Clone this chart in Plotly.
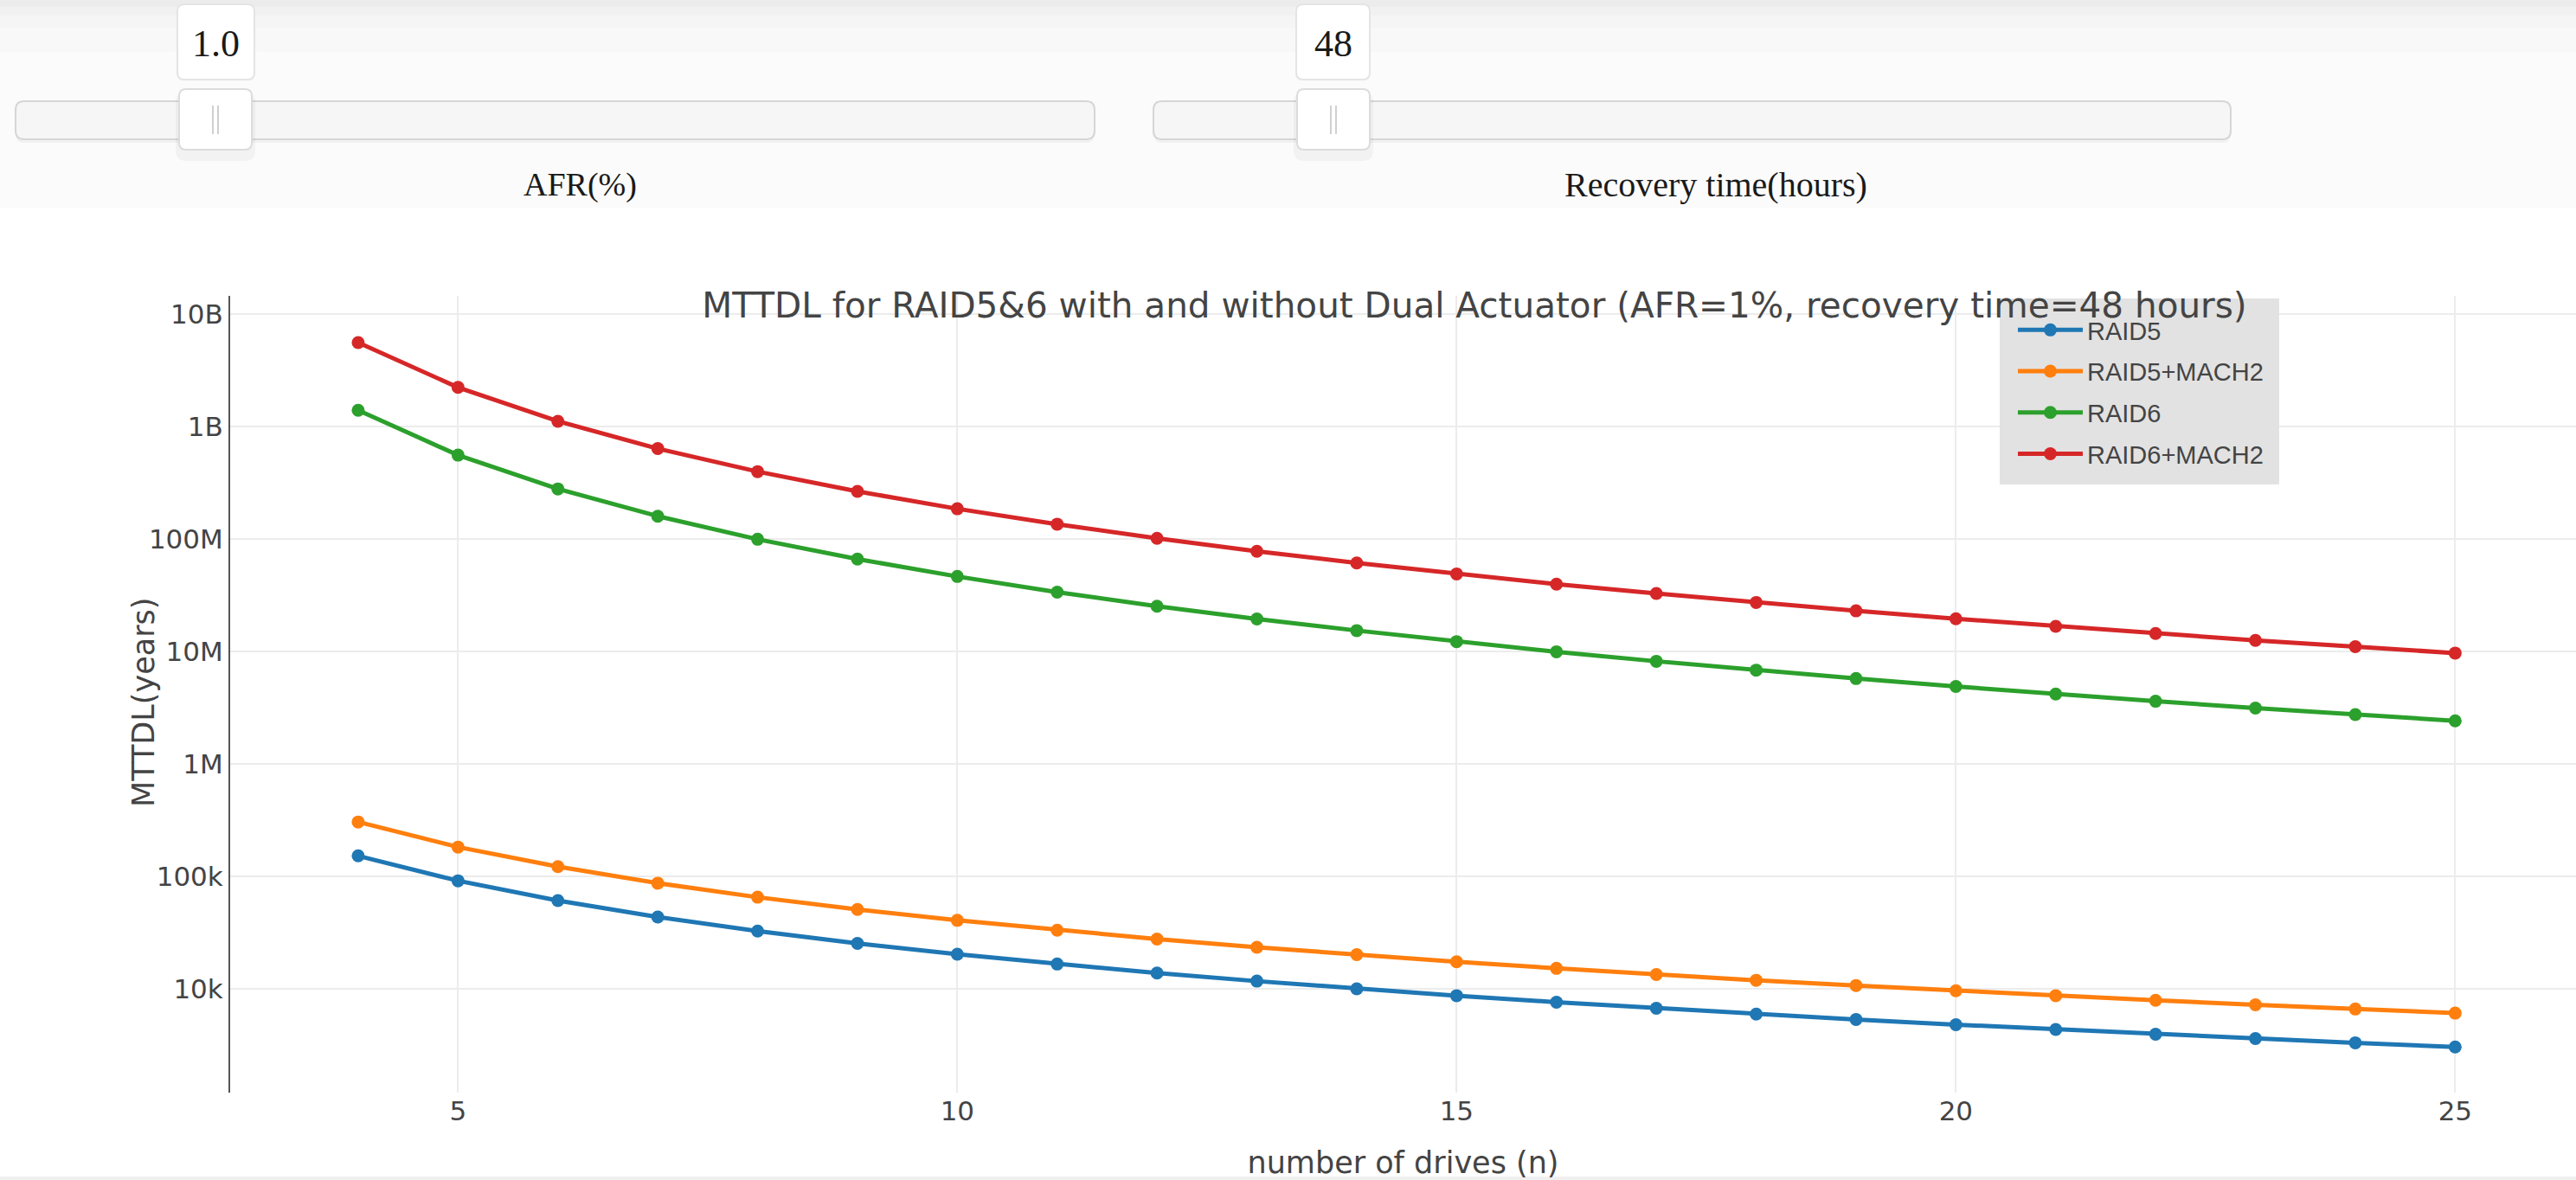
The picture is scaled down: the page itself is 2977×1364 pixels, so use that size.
import plotly.graph_objects as go

# number of drives in the array
drives = [4, 5, 6, 7, 8, 9, 10, 11, 12, 13, 14, 15, 16, 17, 18, 19, 20, 21, 22, 23, 24, 25]

# MTTDL in years (AFR = 1 %, recovery time = 48 h)
raid5 = [152000, 91200, 60800, 43500, 32600, 25300, 20300, 16600, 13800, 11700, 10000,
         8690, 7600, 6710, 5960, 5340, 4800, 4350, 3950, 3610, 3310, 3040]
raid5_mach2 = [304000, 182000, 122000, 86900, 65200, 50700, 40600, 33200, 27700, 23400, 20100,
               17400, 15200, 13400, 11900, 10700, 9610, 8690, 7900, 7210, 6610, 6080]
raid6 = [1.39e9, 5.55e8, 2.78e8, 1.59e8, 9.91e7, 6.61e7, 4.63e7, 3.36e7, 2.52e7, 1.94e7, 1.53e7,
         1.22e7, 9.91e6, 8.16e6, 6.80e6, 5.73e6, 4.87e6, 4.17e6, 3.60e6, 3.13e6, 2.74e6, 2.41e6]
raid6_mach2 = [5.55e9, 2.22e9, 1.11e9, 6.34e8, 3.96e8, 2.64e8, 1.85e8, 1.35e8, 1.01e8, 7.76e7, 6.10e7,
               4.88e7, 3.96e7, 3.27e7, 2.72e7, 2.29e7, 1.95e7, 1.67e7, 1.44e7, 1.25e7, 1.10e7, 9.65e6]

series_names = ["RAID5", "RAID5+MACH2", "RAID6", "RAID6+MACH2"]
series_values = [raid5, raid5_mach2, raid6, raid6_mach2]
series_colors = ["#1f77b4", "#ff7f0e", "#2ca02c", "#d62728"]

# control values shown above the chart
afr_value = "1.0"
recovery_value = "48"
afr_label = "AFR(%)"
recovery_label = "Recovery time(hours)"

W, H = 2977, 1364
ML, MR, MT, MB = 266, 0, 342, 101
PW, PH = W - ML - MR, H - MT - MB


def px(x):
    return (x - ML) / PW


def py(y):
    return (H - MB - y) / PH


def rounded(x0, y0, x1, y1, r):
    """SVG path for a rounded rectangle given in page pixels (paper units)."""
    pts = [
        f"M{px(x0 + r)},{py(y0)}",
        f"L{px(x1 - r)},{py(y0)}",
        f"Q{px(x1)},{py(y0)} {px(x1)},{py(y0 + r)}",
        f"L{px(x1)},{py(y1 - r)}",
        f"Q{px(x1)},{py(y1)} {px(x1 - r)},{py(y1)}",
        f"L{px(x0 + r)},{py(y1)}",
        f"Q{px(x0)},{py(y1)} {px(x0)},{py(y1 - r)}",
        f"L{px(x0)},{py(y0 + r)}",
        f"Q{px(x0)},{py(y0)} {px(x0 + r)},{py(y0)}",
        "Z",
    ]
    return " ".join(pts)


fig = go.Figure()
for name, vals, col in zip(series_names, series_values, series_colors):
    fig.add_trace(go.Scatter(
        x=drives, y=vals, name=name, legendgroup=name, mode="lines+markers",
        line=dict(color=col, width=5),
        marker=dict(color=col, size=15),
    ))

shapes = []
# header band behind the controls
shapes.append(dict(type="rect", xref="paper", yref="paper", x0=px(0), x1=px(W), y0=py(0), y1=py(240),
                   fillcolor="#fbfbfb", line=dict(width=0), layer="below"))
for y0, y1, c in [(0, 8, "#ececec"), (8, 18, "#f1f1f1"), (18, 32, "#f5f5f5"), (32, 60, "#f8f8f8")]:
    shapes.append(dict(type="rect", xref="paper", yref="paper", x0=px(0), x1=px(W), y0=py(y0), y1=py(y1),
                       fillcolor=c, line=dict(width=0), layer="below"))
# thin strip at the page bottom
shapes.append(dict(type="rect", xref="paper", yref="paper", x0=px(0), x1=px(W), y0=py(1360), y1=py(H),
                   fillcolor="#f0f0f0", line=dict(width=0), layer="below"))

# slider rails
for x0, x1 in [(18, 1265), (1333, 2578)]:
    shapes.append(dict(type="path", xref="paper", yref="paper", path=rounded(x0, 119, x1, 165, 10),
                       fillcolor="rgba(0,0,0,0.04)", line=dict(width=0), layer="below"))
    shapes.append(dict(type="path", xref="paper", yref="paper", path=rounded(x0, 117, x1, 161, 10),
                       fillcolor="#f6f6f6", line=dict(color="#d6d6d6", width=2), layer="below"))

# slider grips and value boxes
for cx, bx0, bx1 in [(249, 205, 294), (1541, 1498, 1583)]:
    shapes.append(dict(type="path", xref="paper", yref="paper", path=rounded(cx - 46, 106, cx + 46, 186, 12),
                       fillcolor="rgba(0,0,0,0.035)", line=dict(width=0), layer="below"))
    shapes.append(dict(type="path", xref="paper", yref="paper", path=rounded(cx - 42, 103, cx + 42, 173, 8),
                       fillcolor="#ffffff", line=dict(color="#dcdcdc", width=2), layer="below"))
    for dx in (-3, 3):
        shapes.append(dict(type="line", xref="paper", yref="paper", x0=px(cx + dx), x1=px(cx + dx),
                           y0=py(122), y1=py(155), line=dict(color="#d0d0d0", width=2), layer="below"))
    shapes.append(dict(type="path", xref="paper", yref="paper", path=rounded(bx0, 5, bx1, 92, 8),
                       fillcolor="#ffffff", line=dict(color="#e4e4e4", width=2), layer="below"))

# legend background
shapes.append(dict(type="rect", xref="paper", yref="paper", x0=px(2311), x1=px(2634), y0=py(345), y1=py(560),
                   fillcolor="#e2e2e2", line=dict(width=0), layer="above"))

annotations = []
for txt, cx, cy, size in [(afr_value, 249, 50, 44), (recovery_value, 1541, 50, 44),
                          (afr_label, 670, 214, 38), (recovery_label, 1983, 214, 40)]:
    annotations.append(dict(text=txt, x=px(cx), y=py(cy), xref="paper", yref="paper",
                            xanchor="center", yanchor="middle", showarrow=False,
                            font=dict(family="Liberation Serif", size=size, color="#1a1a1a")))

# y-axis title, set close to the tick labels
annotations.append(dict(text="MTTDL(years)", x=px(166), y=py(812), xref="paper", yref="paper",
                        xanchor="center", yanchor="middle", textangle=-90, showarrow=False,
                        font=dict(family="DejaVu Sans", size=35, color="#444")))

fig.update_layout(
    width=W, height=H,
    margin=dict(l=ML, r=MR, t=MT, b=MB, pad=0),
    paper_bgcolor="#ffffff", plot_bgcolor="#ffffff",
    font=dict(family="DejaVu Sans", size=31, color="#444"),
    title=dict(text="MTTDL for RAID5&6 with and without Dual Actuator (AFR=1%, recovery time=48 hours)",
               x=1704 / W, xref="container", xanchor="center",
               y=1 - 353 / H, yref="container", yanchor="middle",
               font=dict(family="DejaVu Sans", size=40.5, color="#444")),
    xaxis=dict(range=[2.718, 26.21], tick0=0, dtick=5, showgrid=True, gridcolor="#ececec", gridwidth=2,
               zeroline=False, showline=False, ticks="",
               title=dict(text="number of drives (n)", font=dict(size=35), standoff=30),
               tickfont=dict(size=31)),
    yaxis=dict(type="log", range=[3.077, 10.16], dtick=1, exponentformat="B",
               showgrid=True, gridcolor="#ececec", gridwidth=2, zeroline=False,
               showline=True, linecolor="#555", linewidth=2, ticks="",
               tickfont=dict(size=31)),
    legend=dict(x=px(2327), y=py(356), xanchor="left", yanchor="top", itemwidth=75,
                bgcolor="rgba(0,0,0,0)", font=dict(family="Liberation Sans", size=29, color="#444"),
                tracegroupgap=7, traceorder="grouped"),
    shapes=shapes,
    annotations=annotations,
    showlegend=True,
)

fig.write_html("out.html")
